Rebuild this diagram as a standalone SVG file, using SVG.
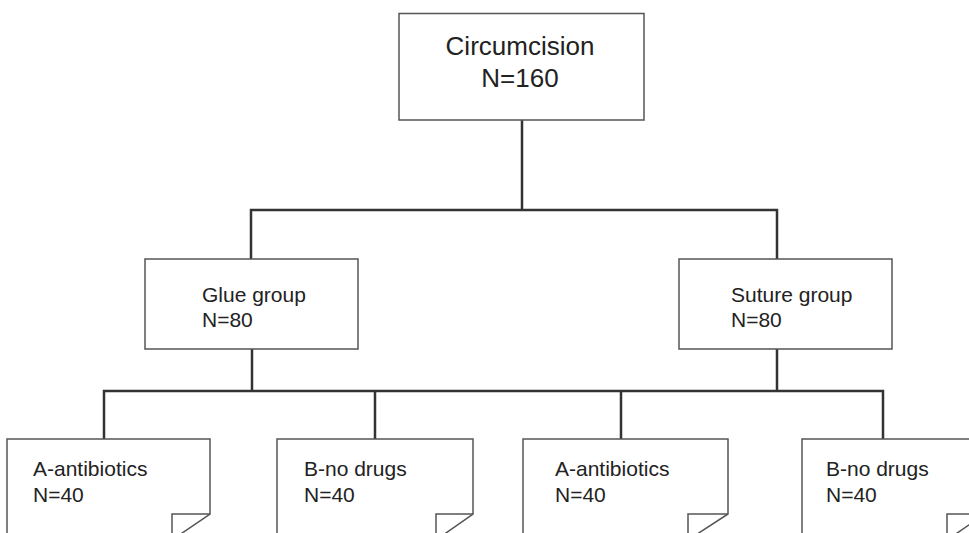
<svg xmlns="http://www.w3.org/2000/svg" width="969" height="533" viewBox="0 0 969 533">
<style>
.box{fill:#fff;stroke:#555;stroke-width:1.5}
.fold{fill:none;stroke:#555;stroke-width:1.5}
.conn{fill:none;stroke:#333;stroke-width:2.5}
text{font-family:"Liberation Sans",Arial,sans-serif;fill:#222}
.t1{font-size:26px}
.t2{font-size:21px}
</style>
<rect width="969" height="533" fill="#fff"/>
<g id="connectors">
<path class="conn" d="M522 120V210M251 259V210H777V259"/>
<path class="conn" d="M252 349V391M777 349V391M104 439V391H883V439M375 391V439M621 391V439"/>
</g>
<g id="circumcision">
<rect class="box" x="399" y="13.5" width="245" height="106.5"/>
<text class="t1" x="520" y="55" text-anchor="middle">Circumcision</text>
<text class="t1" x="520" y="87" text-anchor="middle">N=160</text>
</g>
<g id="glue">
<rect class="box" x="145" y="259" width="213" height="90"/>
<text class="t2" x="202" y="302">Glue group</text>
<text class="t2" x="202" y="327">N=80</text>
</g>
<g id="suture">
<rect class="box" x="679" y="259" width="213" height="90"/>
<text class="t2" x="731" y="302">Suture group</text>
<text class="t2" x="731" y="327">N=80</text>
</g>
<g id="glue-a">
<path class="box" d="M7 540V439H210V514L172 540Z"/>
<path class="fold" d="M210 514H172V540"/>
<text class="t2" x="33" y="476">A-antibiotics</text>
<text class="t2" x="33" y="502">N=40</text>
</g>
<g id="glue-b">
<path class="box" d="M277 540V439H473V514L436 540Z"/>
<path class="fold" d="M473 514H436V540"/>
<text class="t2" x="304" y="476">B-no drugs</text>
<text class="t2" x="304" y="502">N=40</text>
</g>
<g id="suture-a">
<path class="box" d="M523 540V439H728V514L688 540Z"/>
<path class="fold" d="M728 514H688V540"/>
<text class="t2" x="555" y="476">A-antibiotics</text>
<text class="t2" x="555" y="502">N=40</text>
</g>
<g id="suture-b">
<path class="box" d="M802 540V439H985V514L947 540Z"/>
<path class="fold" d="M985 514H947V540"/>
<text class="t2" x="826" y="476">B-no drugs</text>
<text class="t2" x="826" y="502">N=40</text>
</g>
</svg>
